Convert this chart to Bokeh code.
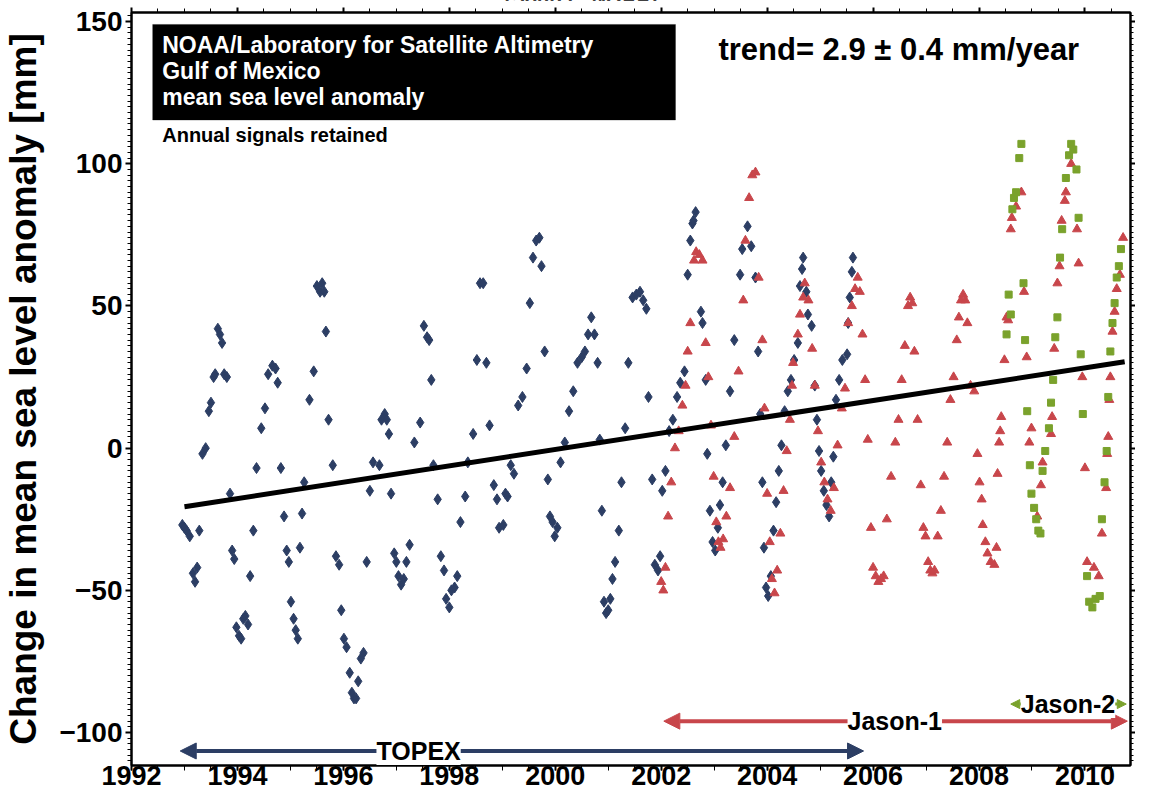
from bokeh.plotting import figure
from bokeh.models import (Range1d, LinearAxis, FixedTicker, BoxAnnotation, Label,
                          Arrow, NormalHead)
from bokeh.embed import file_html
from bokeh.resources import INLINE

# ---------------- data ----------------
topex_year = [
    1992.96, 1993.00, 1993.04, 1993.10, 1993.16, 1993.20, 1993.24, 1993.28, 1993.34, 1993.40,
    1993.46, 1993.50, 1993.55, 1993.58, 1993.63, 1993.67, 1993.71, 1993.75, 1993.80, 1993.86,
    1993.90, 1993.94, 1993.98, 1994.03, 1994.07, 1994.11, 1994.15, 1994.20, 1994.24, 1994.30,
    1994.36, 1994.45, 1994.52, 1994.58, 1994.66, 1994.72, 1994.76, 1994.82, 1994.88, 1994.93,
    1994.97, 1995.01, 1995.06, 1995.10, 1995.14, 1995.18, 1995.22, 1995.26, 1995.36, 1995.44,
    1995.50, 1995.56, 1995.60, 1995.64, 1995.67, 1995.72, 1995.80, 1995.86,
    1995.92, 1995.96, 1996.01, 1996.06, 1996.12, 1996.16, 1996.20, 1996.24, 1996.28, 1996.33,
    1996.38, 1996.44, 1996.50, 1996.56, 1996.68, 1996.72, 1996.78, 1996.82, 1996.86, 1996.90,
    1996.96, 1997.00, 1997.04, 1997.09, 1997.14, 1997.19, 1997.25, 1997.34, 1997.45, 1997.52,
    1997.58, 1997.62, 1997.66, 1997.70, 1997.78, 1997.84,
    1997.90, 1997.94, 1998.00, 1998.04, 1998.10, 1998.15, 1998.21, 1998.30, 1998.35, 1998.45,
    1998.52, 1998.58, 1998.64, 1998.70, 1998.76, 1998.84, 1998.90, 1998.94,
    1999.02, 1999.06, 1999.10, 1999.16, 1999.22, 1999.30, 1999.38, 1999.46, 1999.52, 1999.58,
    1999.64, 1999.70, 1999.74, 1999.80, 1999.86, 1999.90,
    1999.95, 1999.99, 2000.04, 2000.10, 2000.18, 2000.26, 2000.34, 2000.42, 2000.50, 2000.56,
    2000.62, 2000.68, 2000.74, 2000.80, 2000.84, 2000.88, 2000.92, 2000.96,
    2001.00, 2001.04, 2001.08, 2001.13, 2001.20, 2001.25, 2001.32, 2001.38, 2001.46, 2001.53,
    2001.60, 2001.66, 2001.72, 2001.76, 2001.83, 2001.88, 2001.94,
    2001.98, 2002.02, 2002.08, 2002.15, 2002.22, 2002.30, 2002.36, 2002.44, 2002.50, 2002.55,
    2002.59, 2002.61, 2002.65, 2002.75, 2002.78, 2002.84, 2002.87, 2002.92,
    2002.97, 2003.02, 2003.07, 2003.11, 2003.16, 2003.22, 2003.30, 2003.38, 2003.49, 2003.53,
    2003.63, 2003.70, 2003.78, 2003.83, 2003.87, 2003.91, 2003.94,
    2003.98, 2004.02, 2004.07, 2004.12, 2004.17, 2004.22, 2004.27, 2004.33, 2004.39, 2004.45,
    2004.51, 2004.58, 2004.62, 2004.66, 2004.68, 2004.74, 2004.77, 2004.84, 2004.90, 2004.94,
    2004.98, 2005.02, 2005.07, 2005.12, 2005.17, 2005.21, 2005.25, 2005.30, 2005.36, 2005.42,
    2005.51, 2005.53, 2005.56, 2005.60, 2005.62, 2005.70, 2005.75,
]
topex_mm = [
    -27, -28, -29, -31, -44, -47, -42, -29, -2, 0,
    13, 16, 25, 26, 42, 40, 37, 26, 25, -16,
    -36, -39, -63, -66, -67, -60, -59, -62, -45, -29,
    -7, 7, 14, 26, 29, 28, 23, -7, -24, -36,
    -40, -54, -60, -64, -67, -35, -23, -12, 17, 27,
    57, 55, 58, 55, 41, 10, -6, -38,
    -41, -57, -67, -70, -79, -86, -88, -88, -82, -74,
    -72, -40, -15, -5, -6, 10, 12, 10, 5, -16,
    -37, -40, -45, -48, -46, -40, -34, 2, 9, 43,
    39, 38, 24, -6, -18, -38,
    -43, -53, -56, -50, -49, -45, -26, -17, -5, 5,
    31, 58, 58, 30, 8, -13, -18, -28,
    -27, -16, -17, -6, -9, 15, 18, 28, 51, 67,
    73, 74, 64, 34, -11, -24,
    -26, -31, -28, -5, 2, 13, 20, 30, 32, 34,
    40, 46, 40, 30, 3, -22, -54, -58,
    -57, -53, -46, -40, -29, -12, 7, 30, 53, 54,
    55, 52, 49, 18, -11, -41, -43,
    -38, -15, -8, 6, 10, 18, 23, 27, 61, 73,
    79, 80, 83, 48, 44, 24, -2, -22,
    -33, -36, -28, -20, -12, 1, 20, 38, 61, 70,
    78, 71, 60, 34, 12, -12, -35,
    -49, -52, -45, -29, -19, -8, 1, 13, 20, 24,
    31, 37, 57, 63, 67, 55, 47, 43, 22, 10,
    -1, -8, -15, -20, -24, -12, -3, 17, 24, 31,
    33, 44, 53, 62, 67,
]

jason1_year = [
    2002.00, 2002.04, 2002.08, 2002.13, 2002.19, 2002.26, 2002.33, 2002.40, 2002.46, 2002.50,
    2002.55, 2002.62, 2002.66, 2002.72, 2002.78, 2002.84, 2002.89, 2002.94,
    2002.99, 2003.04, 2003.08, 2003.12, 2003.17, 2003.23, 2003.30, 2003.38, 2003.46, 2003.55,
    2003.59, 2003.66, 2003.72, 2003.78, 2003.84, 2003.91, 2003.95,
    2004.00, 2004.05, 2004.09, 2004.14, 2004.19, 2004.25, 2004.31, 2004.37, 2004.43, 2004.47,
    2004.49, 2004.58, 2004.62, 2004.68, 2004.71, 2004.78, 2004.85, 2004.90,
    2004.96, 2005.02, 2005.08, 2005.14, 2005.20, 2005.26, 2005.33, 2005.41, 2005.47, 2005.53,
    2005.60, 2005.66, 2005.71, 2005.75, 2005.80, 2005.85, 2005.90,
    2005.96, 2006.00, 2006.05, 2006.10, 2006.15, 2006.20, 2006.26, 2006.34, 2006.42, 2006.48,
    2006.54, 2006.60, 2006.66, 2006.70, 2006.74, 2006.78, 2006.84, 2006.90,
    2006.95, 2006.99, 2007.04, 2007.08, 2007.12, 2007.16, 2007.22, 2007.28, 2007.34, 2007.40,
    2007.46, 2007.52, 2007.58, 2007.62, 2007.66, 2007.70, 2007.74, 2007.78, 2007.84, 2007.91,
    2007.97, 2008.01, 2008.05, 2008.07, 2008.12, 2008.16, 2008.22, 2008.29, 2008.33, 2008.35,
    2008.38, 2008.40, 2008.42, 2008.48, 2008.52, 2008.55, 2008.60, 2008.62, 2008.70, 2008.80,
    2008.85, 2008.90, 2008.95, 2008.99, 2009.10, 2009.17, 2009.20, 2009.36, 2009.38, 2009.42,
    2009.48, 2009.52, 2009.56, 2009.62, 2009.64, 2009.74, 2009.85, 2009.88, 2009.95, 2010.00,
    2010.04, 2010.17, 2010.26, 2010.32, 2010.40, 2010.42, 2010.44, 2010.46, 2010.48, 2010.52,
    2010.56, 2010.60, 2010.66, 2010.72,
]
jason1_mm = [
    -47, -50, -42, -24, -12, 0, 6, 15, 22, 34,
    44, 66, 69, 68, 66, 37, 25, 8,
    -10, -26, -33, -35, -32, -24, -14, 4, 27, 52,
    73, 88, 96, 97, 60, 38, 14,
    -16, -33, -46, -51, -43, -30, -15, -1, 10, 22,
    30, 40, 47, 53, 58, 52, 35, 22,
    6, -5, -12, -18, -22, -14, 1, 14, 21, 44,
    50, 56, 60, 55, 40, 24, 3,
    -28, -42, -45, -47, -46, -45, -25, -10, 2, 10,
    24, 36, 50, 53, 51, 34, 10, -13,
    -28, -31, -40, -43, -44, -43, -31, -22, -10, 2,
    17, 25, 38, 46, 52, 54, 52, 44, 22, 20,
    -2, -12, -18, -27, -33, -37, -40, -41, -35, -9,
    2, 6, 11, 31, 46, 45, 77, 81, 85, 90,
    55, 32, 2, 7, -24, -13, -5, 5, 11, 35,
    58, 64, 80, 87, 90, 100, 77, 65, 25, -7,
    -40, -42, -45, -30, -14, -2, 4, 17, 25, 41,
    48, 56, 61, 74,
]

jason2_year = [
    2008.52, 2008.56, 2008.60, 2008.63, 2008.66, 2008.70, 2008.76, 2008.80, 2008.84, 2008.87,
    2008.91, 2008.96, 2008.99, 2009.04, 2009.08, 2009.12, 2009.16, 2009.20, 2009.25, 2009.32,
    2009.36, 2009.40, 2009.44, 2009.48, 2009.53, 2009.57, 2009.64, 2009.70, 2009.74, 2009.78,
    2009.84, 2009.88, 2009.92, 2009.96, 2010.04, 2010.08, 2010.14, 2010.20, 2010.28, 2010.32,
    2010.37, 2010.41, 2010.44, 2010.48, 2010.52, 2010.56, 2010.60, 2010.64, 2010.68,
]
jason2_mm = [
    40, 54, 47, 84, 88, 90, 102, 107, 58, 38,
    13, -6, -16, -21, -25, -29, -30, -8, -1, 7,
    16, 24, 39, 46, 67, 77, 95, 103, 107, 105,
    98, 81, 33, 12, -45, -54, -56, -53, -52, -25,
    -12, -1, 18, 34, 44, 51, 60, 64, 70,
]

trend_year = [1993.0, 2010.75]
trend_mm = [-20.6, 30.4]

missions = ["TOPEX", "Jason-1", "Jason-2"]
mission_start = [1992.92, 2002.05, 2008.60]
mission_end = [2005.82, 2010.80, 2010.78]

x_ticks = [1992, 1994, 1996, 1998, 2000, 2002, 2004, 2006, 2008, 2010]
y_ticks = [-100, -50, 0, 50, 100, 150]

# ---------------- styling ----------------
BLUE = "#2c3e64"
RED = "#c8464b"
GREEN = "#7aa22c"
FONT = "Liberation Sans"
mission_colors = [BLUE, RED, GREEN]
mission_level = [-106.5, -96.0, -90.0]
mission_label_x = [1997.42, 2006.41, 2009.68]

p = figure(width=1135, height=795, output_backend="svg", toolbar_location=None,
           x_range=Range1d(1992, 2010.86), y_range=Range1d(-111.6, 153.2),
           min_border_left=126, min_border_right=5, min_border_top=12,
           min_border_bottom=30, background_fill_color="white",
           border_fill_color="white")
p.grid.visible = False
p.outline_line_color = "black"
p.outline_line_width = 2

xt = FixedTicker(ticks=x_ticks, minor_ticks=[1992 + 0.5 * i for i in range(38)])
yt = FixedTicker(ticks=y_ticks, minor_ticks=list(range(-110, 153, 2)))

xa = p.xaxis[0]
xa.ticker = xt
ya = p.yaxis[0]
ya.ticker = yt

for ax in (xa, ya):
    ax.axis_line_width = 2
    ax.axis_line_color = "black"
    ax.major_tick_line_width = 2
    ax.major_tick_in = 0
    ax.minor_tick_in = 0
    ax.major_label_text_font = FONT
    ax.major_label_text_font_style = "bold"
    ax.major_label_text_color = "black"

xa.major_tick_out = 5
xa.minor_tick_out = 5
xa.major_label_text_font_size = "27px"
xa.major_label_standoff = -5
xa.axis_label_standoff = 0

ya.major_tick_out = 6
ya.minor_tick_out = 4
ya.major_label_text_font_size = "28px"
ya.major_label_standoff = 3
ya.axis_label = "Change in mean sea level anomaly [mm]"
ya.axis_label_text_font = FONT
ya.axis_label_text_font_style = "bold"
ya.axis_label_text_font_size = "37px"
ya.axis_label_text_color = "black"
ya.axis_label_standoff = 12

top = LinearAxis(ticker=xt, major_label_overrides={t: "" for t in x_ticks},
                 major_label_text_font_size="1px", major_label_standoff=0,
                 axis_label_standoff=0,
                 major_tick_in=0, minor_tick_in=0, major_tick_out=5, minor_tick_out=4,
                 axis_line_width=2, major_tick_line_width=2)
right = LinearAxis(ticker=yt, major_label_overrides={t: "" for t in y_ticks},
                   major_label_text_font_size="1px", major_label_standoff=0,
                   axis_label_standoff=0,
                   major_tick_in=0, minor_tick_in=0, major_tick_out=5, minor_tick_out=3,
                   axis_line_width=2, major_tick_line_width=2)
p.add_layout(top, "above")
p.add_layout(right, "right")

# data
p.scatter(topex_year, topex_mm, marker="diamond", size=11, color=BLUE)
p.scatter(jason1_year, jason1_mm, marker="triangle", size=9, color=RED)
p.scatter(jason2_year, jason2_mm, marker="square", size=7, color=GREEN)
p.line(trend_year, trend_mm, line_width=5, color="black")

# mission arrows
for name, xs, xe, lvl, col, lx in zip(missions, mission_start, mission_end,
                                      mission_level, mission_colors, mission_label_x):
    hs = 16 if name != "Jason-2" else 9
    lw = 4 if name != "Jason-2" else 3
    p.add_layout(Arrow(x_start=xs, x_end=xe, y_start=lvl, y_end=lvl,
                       line_color=col, line_width=lw,
                       start=NormalHead(size=hs, fill_color=col, line_color=col),
                       end=NormalHead(size=hs, fill_color=col, line_color=col)))
    p.add_layout(Label(x=lx, y=lvl, text=name, text_align="center",
                       text_baseline="middle", text_font=FONT, text_font_style="bold",
                       text_font_size="25px", text_color="black",
                       background_fill_color="white", background_fill_alpha=1.0))

# title box
p.add_layout(BoxAnnotation(left=1992.40, right=2002.27, top=149.0, bottom=115.4,
                           fill_color="black", fill_alpha=1.0, line_color="black"))
for txt, yy in zip(["NOAA/Laboratory for Satellite Altimetry", "Gulf of Mexico",
                    "mean sea level anomaly"], [141.6, 132.6, 123.4]):
    p.add_layout(Label(x=1992.58, y=yy, text=txt, text_baseline="middle",
                       text_font=FONT, text_font_style="bold", text_font_size="23px",
                       text_color="white"))
p.add_layout(Label(x=1992.58, y=110.0, text="Annual signals retained",
                   text_baseline="middle", text_font=FONT, text_font_style="bold",
                   text_font_size="20px", text_color="black"))
p.add_layout(Label(x=2003.08, y=140.3, text="trend= 2.9 \u00b1 0.4 mm/year",
                   text_baseline="middle", text_font=FONT, text_font_style="bold",
                   text_font_size="31px", text_color="black"))

source_note = ("{% block contents %}"
               "<div style=\"position:absolute;top:-12px;left:505px;"
               "font-family:'Liberation Sans';font-weight:bold;font-style:italic;"
               "font-size:20px;line-height:20px;white-space:nowrap;\">(Source: NOAA)</div>"
               "{{ super() }}{% endblock %}")

open("out.html", "w").write(file_html(p, INLINE, template=source_note))
